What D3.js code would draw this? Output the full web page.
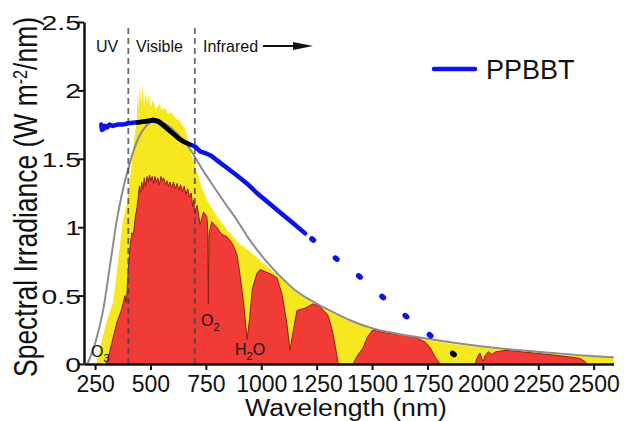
<!DOCTYPE html>
<html>
<head>
<meta charset="utf-8">
<script src="https://cdn.jsdelivr.net/npm/d3@7"></script>
<style>
  body { margin: 0; background: #fff; }
  text { font-family: "Liberation Sans", Arial, sans-serif; fill: #111; }
</style>
</head>
<body>
<svg id="chart" width="624" height="421"></svg>
<script>
// tick values
var xTicks = [250, 500, 750, 1000, 1250, 1500, 1750, 2000, 2250, 2500];
var yTicks = [0, 0.5, 1, 1.5, 2, 2.5];

// blackbody curve (gray), [nm, W m-2/nm]
var blackbody = [[215,0],[250,0.15],[286,0.39],[320,0.75],[348,1.05],[375,1.27],[400,1.43],[445,1.65],[480,1.74],[520,1.78],
  [560,1.76],[611,1.70],[671,1.59],[731,1.43],[780,1.31],[830,1.19],[891,1.05],[942,0.92],[1008,0.78],[1080,0.65],
  [1161,0.53],[1240,0.45],[1310,0.39],[1400,0.32],[1504,0.26],[1620,0.22],[1730,0.19],[1870,0.155],[2019,0.124],
  [2170,0.10],[2317,0.08],[2450,0.063],[2590,0.05]];

// extraterrestrial spectrum (yellow)
var am0 = [[255,0],[270,0.1],[300,0.3],[331,0.45],[350,0.7],[376,1.05],[395,1.18],[410,1.38],[425,1.62],[438,1.78],
  [442,2.02],[447,1.85],[452,2.05],[458,1.9],[465,2.03],[472,1.88],[478,2.0],[485,1.9],[492,1.97],[500,1.88],[512,1.93],
  [525,1.86],[540,1.9],[551,1.86],[565,1.87],[580,1.83],[595,1.84],[611,1.8],[630,1.78],[656,1.72],[679,1.56],[701,1.45],
  [730,1.3],[754,1.2],[800,1.08],[851,0.97],[900,0.88],[950,0.82],[1000,0.75],[1080,0.64],[1160,0.52],[1240,0.44],
  [1310,0.38],[1400,0.31],[1504,0.25],[1620,0.21],[1730,0.18],[1870,0.145],[2019,0.115],[2170,0.092],[2317,0.073],
  [2450,0.058],[2590,0.045]];

// surface spectrum (red)
var am15 = [[300,0],[310,0.05],[325,0.15],[348,0.3],[370,0.4],[385,0.5],[390,0.45],[393,0.49],[400,0.7],[408,0.86],
  [416,0.96],[423,0.94],[432,1.08],[440,1.15],[445,1.22],[450,1.3],[455,1.25],[460,1.33],[466,1.28],[472,1.36],[478,1.3],
  [484,1.37],[490,1.33],[496,1.38],[502,1.34],[508,1.37],[514,1.32],[520,1.37],[527,1.33],[533,1.36],[540,1.31],[547,1.37],
  [554,1.34],[560,1.36],[567,1.31],[574,1.34],[581,1.3],[588,1.33],[596,1.29],[604,1.33],[612,1.28],[620,1.32],[628,1.27],
  [636,1.31],[644,1.26],[652,1.3],[660,1.24],[668,1.28],[676,1.22],[684,1.25],[690,1.15],[695,1.2],[700,1.1],[710,1.16],
  [724,1.02],[739,1.11],[754,1.08],[758,1.0],[761,0.44],[764,0.95],[776,1.04],[799,1.0],[820,0.95],[845,0.93],[870,0.88],
  [890,0.8],[905,0.64],[920,0.45],[936,0.18],[945,0.3],[960,0.55],[980,0.66],[995,0.69],[1040,0.66],[1071,0.63],
  [1095,0.5],[1115,0.3],[1130,0.1],[1145,0.25],[1161,0.39],[1200,0.41],[1234,0.44],[1265,0.42],[1300,0.36],[1320,0.25],
  [1335,0.12],[1347,0],[1415,0],[1430,0.05],[1460,0.12],[1480,0.2],[1504,0.25],[1550,0.23],[1600,0.22],[1650,0.21],
  [1703,0.19],[1740,0.16],[1762,0.12],[1785,0.05],[1807,0],[1965,0],[1975,0.05],[1987,0.08],[1995,0.04],[2003,0.02],
  [2010,0.06],[2025,0.09],[2040,0.07],[2060,0.09],[2109,0.1],[2200,0.085],[2317,0.065],[2400,0.05],[2439,0.04],
  [2460,0.02],[2470,0]];

// PPBBT measured line + dots
var ppbbt = [[278,1.75],[281,1.71],[285,1.74],[290,1.72],[296,1.74],[305,1.73],[315,1.75],[330,1.74],[350,1.75],
  [375,1.75],[400,1.76],[430,1.765],[460,1.77],[490,1.775],[513,1.78],[536,1.77],[560,1.74],[581,1.71],[605,1.68],
  [626,1.65],[650,1.625],[671,1.61],[701,1.59],[724,1.555],[750,1.54],[776,1.52],[799,1.49],[840,1.44],[889,1.38],
  [935,1.32],[980,1.25],[1030,1.182],[1085,1.108],[1140,1.034],[1198,0.955]];
var ppbbtDots = [[1232,0.91],[1338,0.77],[1443,0.64],[1548,0.49],[1653,0.35],[1762,0.21]];
var blackSeg = [[444,1.765],[470,1.772],[500,1.78],[513,1.785],[536,1.775],[560,1.745],[581,1.715],[605,1.68],
  [626,1.65],[650,1.625],[676,1.606]];
var blackDots = [[1867,0.073]];

var regionLines = [400, 700];

var svg = d3.select("#chart");

var x = d3.scaleLinear().domain([200, 2590]).range([84, 613.6]);
var y = d3.scaleLinear().domain([0, 2.5]).range([364, 22]);

var area = d3.area()
  .x(function(d) { return x(d[0]); })
  .y0(y(0))
  .y1(function(d) { return y(d[1]); });
var line = d3.line()
  .x(function(d) { return x(d[0]); })
  .y(function(d) { return y(d[1]); });

svg.append("path").datum(am0).attr("d", area).attr("fill", "#f7e71f");
svg.append("path").datum(am15).attr("d", area).attr("fill", "#f13b36");
svg.append("path").datum(am15).attr("d", line).attr("fill", "none")
  .attr("stroke", "#8a1f14").attr("stroke-width", 1);

svg.append("path").datum(blackbody)
  .attr("d", line.curve(d3.curveMonotoneX))
  .attr("fill", "none").attr("stroke", "#8c8c8c").attr("stroke-width", 2);
line.curve(d3.curveLinear);

svg.selectAll(".vline")
  .data(regionLines)
  .enter()
  .append("line")
  .attr("x1", function(d) { return x(d); })
  .attr("x2", function(d) { return x(d); })
  .attr("y1", 28).attr("y2", y(0))
  .attr("stroke", "#444").attr("stroke-opacity", 0.8)
  .attr("stroke-width", 1.8).attr("stroke-dasharray", "6,4");

svg.append("path").datum(ppbbt).attr("d", line).attr("fill", "none")
  .attr("stroke", "#0a14e6").attr("stroke-width", 4.5).attr("stroke-linejoin", "round").attr("stroke-linecap", "round");
svg.append("path").datum(blackSeg).attr("d", line).attr("fill", "none")
  .attr("stroke", "#000").attr("stroke-width", 4.5).attr("stroke-linecap", "round");

svg.selectAll(".dot")
  .data(ppbbtDots)
  .enter()
  .append("ellipse")
  .attr("transform", function(d) { return "translate(" + x(d[0]) + "," + y(d[1]) + ") rotate(38)"; })
  .attr("rx", 3.8).attr("ry", 2.8)
  .attr("fill", "#0a14e6");
svg.selectAll(".bdot")
  .data(blackDots)
  .enter()
  .append("ellipse")
  .attr("transform", function(d) { return "translate(" + x(d[0]) + "," + y(d[1]) + ") rotate(38)"; })
  .attr("rx", 3.8).attr("ry", 2.8)
  .attr("fill", "#000");

// axes
var xAxis = svg.append("g")
  .attr("transform", "translate(0," + y(0) + ")")
  .call(d3.axisBottom(x).tickValues(xTicks).tickFormat(d3.format("d")).tickSize(6).tickSizeOuter(0).tickPadding(6));
xAxis.selectAll("text").attr("font-size", 23).attr("font-family", "Liberation Sans, Arial, sans-serif").attr("fill", "#111");

var yAxis = svg.append("g")
  .attr("transform", "translate(" + x(200) + ",0)")
  .call(d3.axisLeft(y).tickValues(yTicks).tickFormat(function(d) { return d; }).tickSize(6).tickSizeOuter(0));
yAxis.selectAll("text")
  .attr("font-size", 21).attr("font-family", "Liberation Sans, Arial, sans-serif").attr("fill", "#111")
  .attr("x", 0).attr("dy", "0.36em")
  .attr("transform", "translate(-3,0) scale(1.35,1)");

svg.selectAll(".domain").attr("stroke", "#111").attr("stroke-width", 2.5);
svg.selectAll(".tick line").attr("stroke", "#111").attr("stroke-width", 2);

// titles
svg.append("text")
  .attr("transform", "translate(37,197) rotate(-90)")
  .attr("text-anchor", "middle")
  .attr("font-size", 33)
  .attr("textLength", 360).attr("lengthAdjust", "spacingAndGlyphs")
  .html('Spectral Irradiance (W m<tspan dy="-10" font-size="20">-2</tspan><tspan dy="10">/nm)</tspan>');

svg.append("text")
  .attr("x", 245).attr("y", 416)
  .attr("font-size", 23)
  .attr("textLength", 202).attr("lengthAdjust", "spacingAndGlyphs")
  .text("Wavelength (nm)");

// region labels
svg.append("text").attr("x", 96).attr("y", 52).attr("font-size", 16).text("UV");
svg.append("text").attr("x", 136).attr("y", 52).attr("font-size", 16).text("Visible");
svg.append("text").attr("x", 203).attr("y", 52).attr("font-size", 16).text("Infrared");
svg.append("line").attr("x1", 263).attr("x2", 296).attr("y1", 46).attr("y2", 46)
  .attr("stroke", "#111").attr("stroke-width", 1.8);
svg.append("path").attr("d", "M293,42L313,46L293,50Z").attr("fill", "#111");

// absorption labels
svg.append("text").attr("x", 91).attr("y", 357).attr("font-size", 16)
  .html('O<tspan dy="5" font-size="11">3</tspan>');
svg.append("text").attr("x", 201).attr("y", 326).attr("font-size", 16)
  .html('O<tspan dy="5" font-size="11">2</tspan>');
svg.append("text").attr("x", 235).attr("y", 355).attr("font-size", 16)
  .html('H<tspan dy="5" font-size="11">2</tspan><tspan dy="-5">O</tspan>');

// legend
svg.append("line").attr("x1", 434).attr("x2", 475).attr("y1", 69).attr("y2", 69)
  .attr("stroke", "#0a14e6").attr("stroke-width", 4.5).attr("stroke-linecap", "round");
svg.append("text").attr("x", 486).attr("y", 79).attr("font-size", 27).text("PPBBT");
</script>
</body>
</html>
